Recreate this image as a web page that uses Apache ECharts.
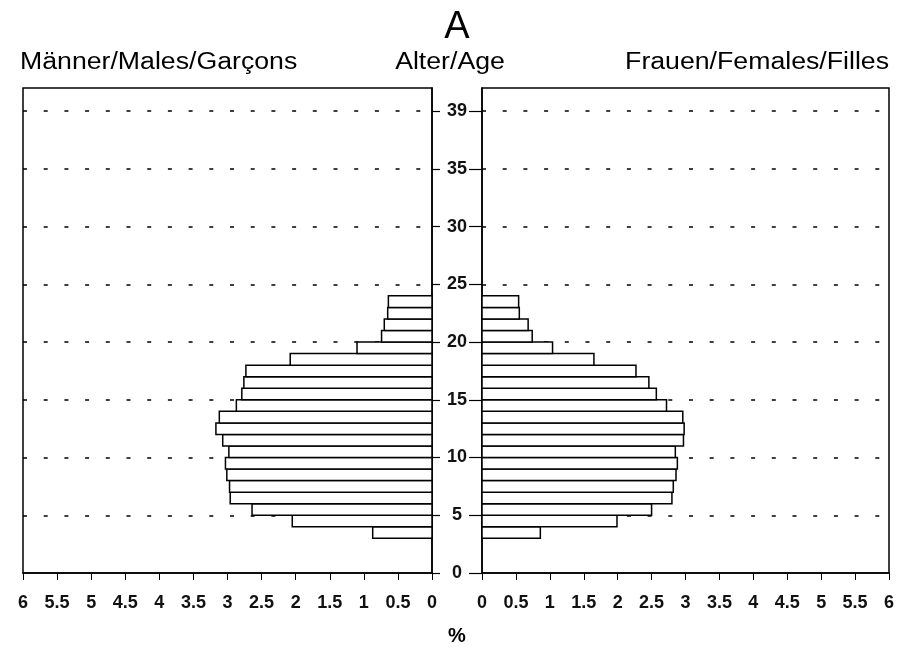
<!DOCTYPE html>
<html>
<head>
<meta charset="utf-8">
<script src="https://cdn.jsdelivr.net/npm/echarts@6/dist/echarts.min.js"></script>
<style>
html, body { margin: 0; padding: 0; background: #fff; }
#chart { width: 914px; height: 648px; }
</style>
</head>
<body>
<div id="chart"></div>
<script>
// age classes (years), each bar covers [age, age+1)
var ages = [3, 4, 5, 6, 7, 8, 9, 10, 11, 12, 13, 14, 15, 16, 17, 18, 19, 20, 21, 22, 23];
// share of population in %
var males   = [0.87, 2.05, 2.64, 2.96, 2.97, 3.01, 3.03, 2.98, 3.07, 3.17, 3.12, 2.87, 2.79, 2.76, 2.73, 2.08, 1.10, 0.74, 0.70, 0.65, 0.64];
var females = [0.86, 1.99, 2.50, 2.80, 2.82, 2.86, 2.88, 2.85, 2.97, 2.98, 2.96, 2.72, 2.57, 2.46, 2.27, 1.65, 1.04, 0.74, 0.68, 0.55, 0.54];
// age axis ticks; the top one is labelled "39"
var ageTicks = [0, 5, 10, 15, 20, 25, 30, 35, 40];
var ageTickText = ['0', '5', '10', '15', '20', '25', '30', '35', '39'];

var FONT = '"Liberation Sans", Arial, Helvetica, sans-serif';

function pairs(vals) {
    var out = [];
    for (var i = 0; i < ages.length; i++) {
        out.push([vals[i], ages[i]]);
    }
    return out;
}

function renderBar(params, api) {
    var pct = api.value(0);
    var age = api.value(1);
    var p0 = api.coord([0, age]);
    var p1 = api.coord([pct, age + 1]);
    return {
        type: 'rect',
        shape: {
            x: Math.min(p0[0], p1[0]),
            y: p1[1],
            width: Math.abs(p1[0] - p0[0]),
            height: p0[1] - p1[1]
        },
        style: { fill: '#fff', stroke: '#000', lineWidth: 1.5 }
    };
}

function pctAxis(idx, inverse) {
    return {
        gridIndex: idx,
        type: 'value',
        min: 0,
        max: 6,
        interval: 0.5,
        inverse: inverse,
        axisLine: { show: true, lineStyle: { color: '#000', width: 1.5 } },
        axisTick: { show: true, length: 7, lineStyle: { color: '#000', width: 1 } },
        axisLabel: { fontFamily: FONT, fontSize: 18, fontWeight: 'bold', color: '#111', margin: 21 },
        splitLine: { show: false }
    };
}

function ageAxis(idx, pos, tickLen, showLabel) {
    return {
        gridIndex: idx,
        type: 'value',
        position: pos,
        min: 0,
        max: 42,
        interval: 5,
        axisLine: { show: true, onZero: false, lineStyle: { color: '#000', width: 1.5 } },
        axisTick: { show: true, length: tickLen, customValues: ageTicks, lineStyle: { color: '#000', width: 1.2 } },
        axisLabel: {
            show: showLabel,
            customValues: ageTicks,
            fontFamily: FONT,
            fontSize: 18,
            fontWeight: 'bold',
            color: '#111',
            margin: 25,
            align: 'center',
            formatter: function (v) {
                var k = ageTicks.indexOf(v);
                return k >= 0 ? ageTickText[k] : '';
            }
        },
        splitLine: {
            show: true,
            showMinLine: false,
            lineStyle: { color: '#000', width: 1.5, type: [4, 16.7] }
        }
    };
}

var option = {
    backgroundColor: '#fff',
    animation: false,
    grid: [
        { left: 23, top: 88, width: 409, height: 485, show: true, borderColor: '#000', borderWidth: 1.5 },
        { left: 482, top: 88, width: 407, height: 485, show: true, borderColor: '#000', borderWidth: 1.5 }
    ],
    xAxis: [pctAxis(0, true), pctAxis(1, false)],
    yAxis: [ageAxis(0, 'right', 8, false), ageAxis(1, 'left', 13, true)],
    graphic: [
        { type: 'text', x: 457, y: 28, style: { text: 'A', font: '38px ' + FONT, fill: '#000', align: 'center', verticalAlign: 'middle' } },
        { type: 'text', x: 20, y: 63, scaleX: 1.16, style: { text: 'Männer/Males/Garçons', font: '23px ' + FONT, fill: '#000', align: 'left', verticalAlign: 'middle' } },
        { type: 'text', x: 450, y: 63, scaleX: 1.16, style: { text: 'Alter/Age', font: '23px ' + FONT, fill: '#000', align: 'center', verticalAlign: 'middle' } },
        { type: 'text', x: 889, y: 63, scaleX: 1.16, style: { text: 'Frauen/Females/Filles', font: '23px ' + FONT, fill: '#000', align: 'right', verticalAlign: 'middle' } },
        { type: 'text', x: 457, y: 636, style: { text: '%', font: 'bold 20px ' + FONT, fill: '#000', align: 'center', verticalAlign: 'middle' } }
    ],
    series: [
        {
            name: 'Männer',
            type: 'custom',
            xAxisIndex: 0,
            yAxisIndex: 0,
            renderItem: renderBar,
            data: pairs(males)
        },
        {
            name: 'Frauen',
            type: 'custom',
            xAxisIndex: 1,
            yAxisIndex: 1,
            renderItem: renderBar,
            data: pairs(females)
        }
    ]
};

var chart = echarts.init(document.getElementById('chart'));
chart.setOption(option);
</script>
</body>
</html>
